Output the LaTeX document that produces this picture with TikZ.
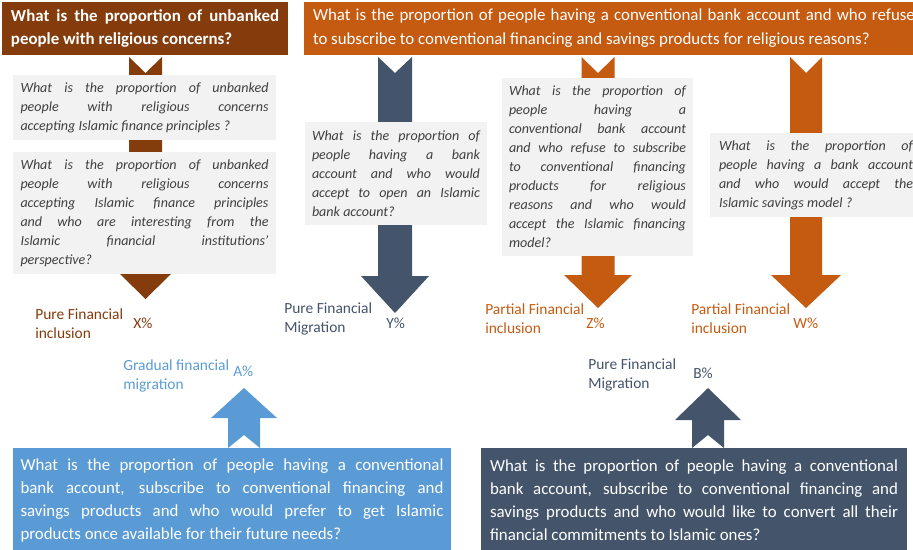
\documentclass[tikz,border=0pt]{standalone}
\usepackage{fontspec}
\setmainfont{Carlito}
\usetikzlibrary{positioning}

\definecolor{brownq}{HTML}{843C0C}
\definecolor{orangeq}{HTML}{C55A11}
\definecolor{slateq}{HTML}{44546A}
\definecolor{blueq}{HTML}{5B9BD5}
\definecolor{greyq}{HTML}{F2F2F2}
\definecolor{textq}{HTML}{404040}

\newlength{\pxu}
\setlength{\pxu}{0.025cm}
\tolerance=10000
\hbadness=10000

% block arrows: colour, x, top, shoulder, tip, half stem, half head
\newcommand{\arrowdown}[7]{%
  \fill[#1] ({#2-#6},#3) -- (#2,{#3+16}) -- ({#2+#6},#3) -- ({#2+#6},#4)
    -- ({#2+#7},#4) -- (#2,#5) -- ({#2-#7},#4) -- ({#2-#6},#4) -- cycle;}
\newcommand{\arrowup}[7]{%
  \fill[#1] ({#2-#6},#3) -- (#2,{#3-13}) -- ({#2+#6},#3) -- ({#2+#6},#4)
    -- ({#2+#7},#4) -- (#2,#5) -- ({#2-#7},#4) -- ({#2-#6},#4) -- cycle;}

\begin{document}
\begin{tikzpicture}[x=0.025cm, y=-0.025cm,
        topbox/.style = {inner ysep=0pt, text=white, align=justify},
        qbox/.style = {fill=greyq, text=textq, align=justify, inner ysep=0pt,
            font=\fontsize{10}{13.5}\selectfont\itshape},
        lowbox/.style = {inner ysep=0pt, text=white, align=justify,
            font=\fontsize{12}{16.3}\selectfont},
        lbl/.style = {anchor=west, align=left, inner sep=0pt,
            font=\fontsize{11}{13.5}\selectfont},
        pct/.style = {anchor=west, inner sep=0pt, font=\fontsize{11}{13.5}\selectfont},]
    \useasboundingbox (0,0) rectangle (913,549);

    % arrows under the boxes
    \arrowdown{brownq}{145.5}{57}{274}{299}{16.5}{25.5}
    \arrowdown{slateq}{395}{57}{276}{313}{17}{34}
    \arrowdown{orangeq}{598}{57}{275}{308}{16.5}{34}
    \arrowdown{orangeq}{806}{57}{275}{308}{16}{35}
    \arrowup{blueq}{244}{448}{418}{388}{16}{33}
    \arrowup{slateq}{708}{448}{420}{388}{16}{33}

    % top questions
    \node[topbox, fill=brownq, inner xsep=9\pxu, text width=268\pxu, minimum height=53\pxu,
        font=\fontsize{12}{16.3}\selectfont\bfseries] (unbanked) at (145,28.5)
        {What is the proportion of unbanked\linebreak people with religious concerns?};
    \node[topbox, fill=orangeq, inner xsep=9\pxu, text width=602\pxu, minimum height=53\pxu,
        font=\fontsize{12}{17}\selectfont] (banked) at (614,28.5)
        {What is the proportion of people having a conventional bank account and who refuse\linebreak to subscribe to conventional financing and savings products for religious reasons?};

    % grey questions
    \node[qbox, inner xsep=7.5\pxu, text width=248\pxu, minimum height=65\pxu] (accept) at (144.5,107.5)
        {What is the proportion of unbanked\linebreak people with religious concerns\linebreak accepting Islamic finance principles ?};
    \node[qbox, inner xsep=7.5\pxu, text width=248\pxu, minimum height=122\pxu] (interest) at (144.5,213)
        {What is the proportion of unbanked\linebreak people with religious concerns\linebreak accepting Islamic finance principles\linebreak and who are interesting from the\linebreak Islamic financial institutions'\linebreak perspective?};
    \node[qbox, inner xsep=7\pxu, text width=168\pxu, minimum height=103\pxu] (openacc) at (396,173.5)
        {What is the proportion of\linebreak people having a bank\linebreak account and who would\linebreak accept to open an Islamic\linebreak bank account?};
    \node[qbox, inner xsep=7\pxu, text width=177\pxu, minimum height=178\pxu] (financing) at (597.5,167)
        {What is the proportion of\linebreak people having a\linebreak conventional bank account\linebreak and who refuse to subscribe\linebreak to conventional financing\linebreak products for religious\linebreak reasons and who would\linebreak accept the Islamic financing\linebreak model?};
    \node[qbox, inner xsep=9\pxu, text width=194\pxu, minimum height=84\pxu] (savings) at (816,175)
        {What is the proportion of\linebreak people having a bank account\linebreak and who would accept the\linebreak Islamic savings model ?};

    % bottom questions
    \node[lowbox, fill=blueq, inner xsep=7.5\pxu, text width=423\pxu, minimum height=105\pxu] (prefer) at (232,500.5)
        {What is the proportion of people having a conventional\linebreak bank account, subscribe to conventional financing and\linebreak savings products and who would prefer to get Islamic\linebreak products once available for their future needs?};
    \node[lowbox, fill=slateq, inner xsep=9\pxu, text width=408\pxu, minimum height=105\pxu] (convert) at (694,500.5)
        {What is the proportion of people having a conventional\linebreak bank account, subscribe to conventional financing and\linebreak savings products and who would like to convert all their\linebreak financial commitments to Islamic ones?};

    % outcomes
    \node[lbl, text=brownq] (inclX) at (35,323.5) {Pure Financial\\inclusion};
    \node[pct, text=brownq] (X) at (133,323) {X\%};
    \node[lbl, text=slateq] (migrY) at (284,318.5) {Pure Financial\\Migration};
    \node[pct, text=slateq] (Y) at (386,323) {Y\%};
    \node[lbl, text=orangeq] (inclZ) at (485,319) {Partial Financial\\inclusion};
    \node[pct, text=orangeq] (Z) at (586,323) {Z\%};
    \node[lbl, text=orangeq] (inclW) at (691,319) {Partial Financial\\inclusion};
    \node[pct, text=orangeq] (W) at (793,323) {W\%};
    \node[lbl, text=blueq] (gradA) at (123,375.5) {Gradual financial\\migration};
    \node[pct, text=blueq] (A) at (233,371) {A\%};
    \node[lbl, text=slateq] (migrB) at (588,374.5) {Pure Financial\\Migration};
    \node[pct, text=slateq] (B) at (693,373) {B\%};
\end{tikzpicture}
\end{document}
